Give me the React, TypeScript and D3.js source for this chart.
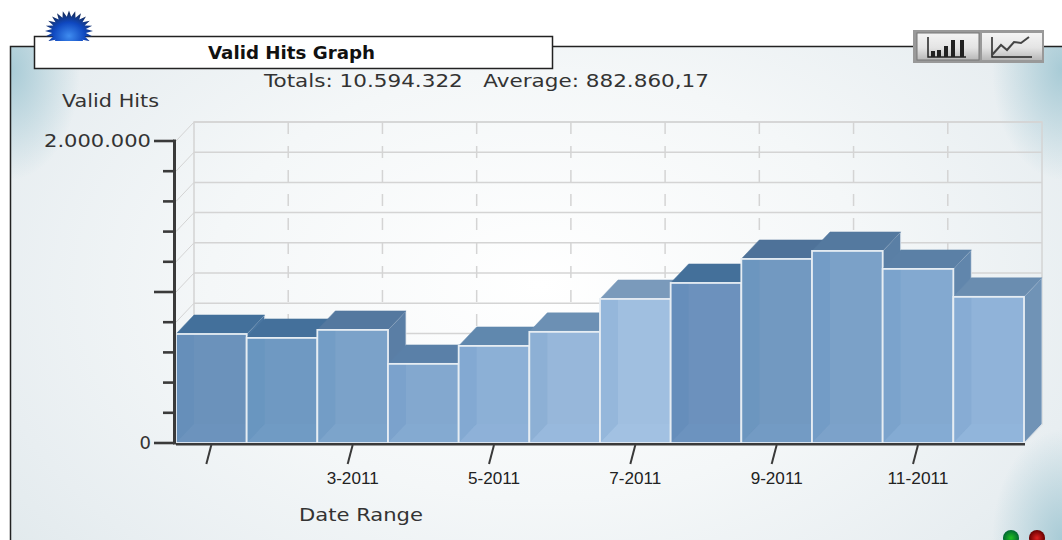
import React from "react";
import * as d3 from "d3";

const months = ["1-2011","2-2011","3-2011","4-2011","5-2011","6-2011","7-2011","8-2011","9-2011","10-2011","11-2011","12-2011"];
const hits = [722000,696000,749000,524000,643000,736000,954000,1060000,1219000,1272000,1153000,968000];
const yTicks = d3.range(0, 2000001, 200000);
const yLabels = [0, 2000000];
const xLabelled = ["3-2011","5-2011","7-2011","9-2011","11-2011"];
const xTicked = ["1-2011","3-2011","5-2011","7-2011","9-2011","11-2011"];

const frontColors = ["#6b92bb","#6f99c2","#7ba2c9","#83a8cf","#8cb0d6","#97b7da","#a0bfe0","#6c91bd","#7299c1","#7ba1c8","#83a9d0","#90b3d9"];
const topColors = ["#43709b","#44709b","#54789f","#5a80a8","#6088ae","#6c90b4","#7a9abb","#44709a","#4e7299","#54799f","#5b80a6","#6a8db0"];

const DX = 18, DY = -19;
const fmt = (n: number) => d3.format(",")(n).replace(/,/g, ".");
const pix = "'DejaVu Sans', Verdana, sans-serif";
const G = "spacingAndGlyphs";

export default function App() {
  const x = d3.scaleBand().domain(months).range([176, 1024]);
  const y = d3.scaleLinear().domain([0, 2000000]).range([443, 141]);
  const bw = x.bandwidth();
  const wallL = 176 + DX, wallR = 1024 + DX;
  const wallTop = y(2000000) + DY, wallBot = y(0) + DY;
  const gridXs = d3.range(1, 9).map((i) => wallL + (i * (wallR - wallL)) / 9);
  const gridYs = yTicks.map((t) => y(t) + DY);

  return (
    <svg width={1062} height={540} style={{ position: "fixed", left: 0, top: 0, display: "block" }}>
      <defs>
        <radialGradient id="bg" gradientUnits="userSpaceOnUse" cx={540} cy={285} r={660} gradientTransform="translate(0 99.75) scale(1 0.65)">
          <stop offset="0" stopColor="#ffffff" />
          <stop offset="0.5" stopColor="#f4f7f8" />
          <stop offset="0.85" stopColor="#e8eef1" />
          <stop offset="1" stopColor="#e2eaed" />
        </radialGradient>
        <radialGradient id="corner">
          <stop offset="0" stopColor="#a8cbd6" stopOpacity={1} />
          <stop offset="1" stopColor="#a8cbd6" stopOpacity={0} />
        </radialGradient>
        <linearGradient id="btn" x1="0" x2="0" y1="0" y2="1">
          <stop offset="0" stopColor="#f4f4f4" />
          <stop offset="0.55" stopColor="#e4e4e4" />
          <stop offset="1" stopColor="#b8b8b8" />
        </linearGradient>
        <radialGradient id="star" cx="0.5" cy="0.62" r="0.55">
          <stop offset="0" stopColor="#3f8cf0" />
          <stop offset="0.6" stopColor="#0f48c0" />
          <stop offset="1" stopColor="#152f66" />
        </radialGradient>
        <radialGradient id="gd"><stop offset="0" stopColor="#20c020" /><stop offset="1" stopColor="#063" /></radialGradient>
        <radialGradient id="rd"><stop offset="0" stopColor="#e02020" /><stop offset="1" stopColor="#600" /></radialGradient>
        <clipPath id="burstClip"><rect x={40} y={5} width={60} height={36} /></clipPath>
        <clipPath id="panelClip"><rect x={10} y={46} width={1052} height={494} /></clipPath>
      </defs>
      <rect width={1062} height={540} fill="#fff" />
      <g clipPath="url(#panelClip)">
        <rect x={10} y={46} width={1052} height={494} fill="url(#bg)" />
        <ellipse cx={10} cy={70} rx={70} ry={110} fill="url(#corner)" />
        <ellipse cx={1062} cy={70} rx={70} ry={110} fill="url(#corner)" />
        <ellipse cx={1062} cy={540} rx={70} ry={110} fill="url(#corner)" />
      </g>
      <path d="M10.5 540V46.5H1062" fill="none" stroke="#222" strokeWidth={1.5} />

      <circle cx={1011} cy={538} r={8} fill="url(#gd)" />
      <circle cx={1037} cy={538} r={8} fill="url(#rd)" />

      {/* back wall */}
      <g fill="none" stroke="#d4d4d4" strokeWidth={1.5}>
        <rect x={wallL} y={wallTop} width={wallR - wallL} height={wallBot - wallTop} />
        {gridYs.map((g, i) => <line key={i} x1={wallL} x2={wallR} y1={g} y2={g} />)}
        {gridYs.map((g, i) => <line key={i} x1={wallL - DX} x2={wallL} y1={g - DY} y2={g} strokeWidth={1} />)}
        {gridXs.map((g, i) => <line key={i} x1={g} x2={g} y1={wallTop} y2={wallBot} strokeDasharray="12 12" />)}
        <line x1={1024} x2={wallR} y1={y(0)} y2={wallBot} stroke="#e2e6e8" strokeWidth={2} />
      </g>

      {/* bars */}
      {months.map((m, i) => {
        const bx = x(m)!, by = y(hits[i]), b0 = y(0);
        const side = d3.interpolateRgb(frontColors[i], topColors[i])(0.85);
        const floor = d3.color(frontColors[i])!.brighter(0.08).formatHex();
        const inner = d3.interpolateRgb(frontColors[i], "#3d78b0")(0.16);
        return (
          <g key={m}>
            <path d={`M${bx + bw} ${by}l${DX} ${DY}V${b0 + DY}l${-DX} ${-DY}Z`} fill={side} stroke="#dfe6ec" strokeWidth={0.8} />
            <path d={`M${bx} ${by}l${DX} ${DY}h${bw}l${-DX} ${-DY}Z`} fill={topColors[i]} stroke={topColors[i]} strokeWidth={0.5} />
            <rect x={bx} y={by} width={bw} height={b0 - by} fill={frontColors[i]} />
            <path d={`M${bx} ${by}h${DX}V${b0 + DY}l${-DX} ${-DY}Z`} fill={inner} opacity={0.7} />
            <path d={`M${bx} ${b0}l${DX} ${DY}h${bw - DX}V${b0}Z`} fill={floor} opacity={0.4} />
            <rect x={bx} y={by} width={bw} height={b0 - by} fill="none" stroke="#e6edf3" strokeWidth={1.8} />
          </g>
        );
      })}

      {/* axes */}
      <g stroke="#3a3a3a">
        <line x1={174.5} x2={174.5} y1={y(2000000) - 1.5} y2={y(0) + 1.5} strokeWidth={3} />
        <line x1={176} x2={1025} y1={y(0) + 1.2} y2={y(0) + 1.2} strokeWidth={2.4} />
        {yTicks.map((t) => {
          const major = t % 1000000 === 0;
          return <line key={t} x1={major ? 154 : 163} x2={174} y1={y(t)} y2={y(t)} strokeWidth={2.6} />;
        })}
        {xTicked.map((m) => {
          const c = x(m)! + bw / 2;
          return <line key={m} x1={c} x2={c - 5} y1={y(0) + 2} y2={y(0) + 21} strokeWidth={2} />;
        })}
      </g>
      <g fontFamily={pix} fontSize={18} fill="#333" textAnchor="end">
        {yLabels.map((t) => (
          <text key={t} x={151} y={y(t) + 6} {...(t ? { textLength: 107, lengthAdjust: G } : {})}>{fmt(t)}</text>
        ))}
      </g>
      <g fontFamily="'Liberation Sans', Arial, sans-serif" fontSize={17} fill="#222" textAnchor="middle">
        {xLabelled.map((m) => <text key={m} x={x(m)! + bw / 2} y={484} textLength={m.length > 6 ? 61 : 52} lengthAdjust={G}>{m}</text>)}
      </g>
      <text x={299} y={521} fontFamily={pix} fontSize={17} fill="#333" textLength={124} lengthAdjust={G}>Date Range</text>
      <text x={62} y={107} fontFamily={pix} fontSize={17} fill="#333" textLength={97} lengthAdjust={G}>Valid Hits</text>

      {/* title */}
      <rect x={34.5} y={36.5} width={518} height={32} fill="#fff" stroke="#222" strokeWidth={1.5} />
      <text x={208} y={59} fontFamily={pix} fontWeight="bold" fontSize={17} fill="#111" textLength={167} lengthAdjust={G}>Valid Hits Graph</text>
      <text x={264} y={87} fontFamily={pix} fontSize={18} fill="#333" textLength={445} lengthAdjust={G} xmlSpace="preserve">Totals: 10.594.322   Average: 882.860,17</text>

      {/* burst */}
      <g clipPath="url(#burstClip)">
        <path fill="url(#star)" d={d3.range(0, 48).map((i) => {
          const a = (Math.PI * 2 * i) / 48;
          const r = i % 2 ? 17 : 24;
          return `${i ? "L" : "M"}${69 + r * Math.cos(a)} ${31 + r * 0.85 * Math.sin(a)}`;
        }).join("") + "Z"} />
      </g>

      {/* buttons */}
      <g>
        <rect x={913} y={30} width={131} height={33} fill="#999" />
        <rect x={917} y={33} width={62} height={27} fill="url(#btn)" stroke="#777" />
        <rect x={982} y={33} width={60} height={27} fill="url(#btn)" />
        <path d="M928 37V57H966" fill="none" stroke="#222" strokeWidth={1.5} />
        <path d="M933 57V51M939 57V50M946 57V46M953 57V40M962 57V40" stroke="#222" strokeWidth={4} fill="none" />
        <path d="M992 37V57H1032" fill="none" stroke="#222" strokeWidth={1.5} />
        <path d="M992 55L1001 45L1007 50L1014 42L1021 43L1029 37" stroke="#444" strokeWidth={2} fill="none" />
      </g>
    </svg>
  );
}
